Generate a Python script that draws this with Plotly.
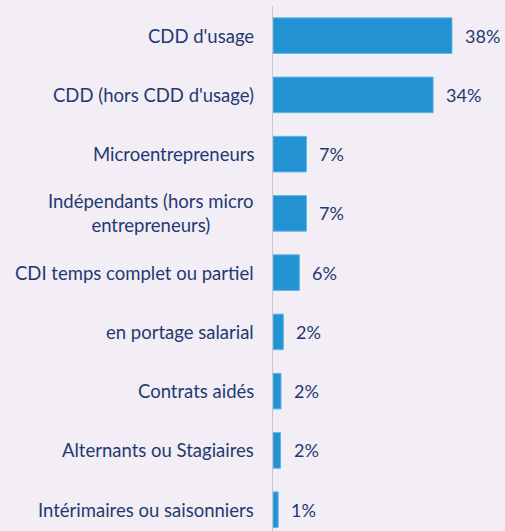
import plotly.graph_objects as go

categories = [
    "CDD d'usage",
    "CDD (hors CDD d'usage)",
    "Microentrepreneurs",
    "Indépendants (hors micro<br>entrepreneurs)",
    "CDI temps complet ou partiel",
    "en portage salarial",
    "Contrats aidés",
    "Alternants ou Stagiaires",
    "Intérimaires ou saisonniers",
]
values = [38, 34, 7.1, 7.1, 5.6, 2.2, 1.7, 1.6, 1.1]
labels = ["38%", "34%", "7%", "7%", "6%", "2%", "2%", "2%", "1%"]

BG = "#f3edf5"
BAR = "#2292d3"
TXT = "#1f3a70"
FONT = "Lato, Open Sans, sans-serif"

fig = go.Figure(go.Bar(
    x=values, y=categories, orientation="h",
    marker=dict(color=BAR, line=dict(color="#5fb6e6", width=1)),
    width=0.6, hoverinfo="skip",
))

annotations = []
for c, v, t in zip(categories, values, labels):
    annotations.append(dict(x=v, y=c, xref="x", yref="y", text=t, showarrow=False,
                            xanchor="left", xshift=11,
                            font=dict(family=FONT, size=18, color=TXT)))
    annotations.append(dict(x=0, y=c, xref="paper", yref="y", text=c, showarrow=False,
                            xanchor="right", xshift=-17, align="center",
                            font=dict(family=FONT, size=18.5, color=TXT)))

fig.update_layout(
    width=505, height=531,
    margin=dict(l=273, r=0, t=6, b=0),
    paper_bgcolor=BG, plot_bgcolor=BG,
    showlegend=False,
    annotations=annotations,
    xaxis=dict(range=[0, 49.26], visible=False, showgrid=False, zeroline=False, fixedrange=True),
    yaxis=dict(type="category", range=[8.36, -0.5], showticklabels=False,
               showgrid=False, zeroline=False, showline=True, linecolor="#c9c5ce",
               linewidth=1.5, ticks="", fixedrange=True),
)

fig.write_html(
    "out.html",
    config={"displayModeBar": False, "staticPlot": True},
    post_script="document.body.style.margin='0';document.body.style.overflow='hidden';"
                "document.body.style.background='" + BG + "';",
)
